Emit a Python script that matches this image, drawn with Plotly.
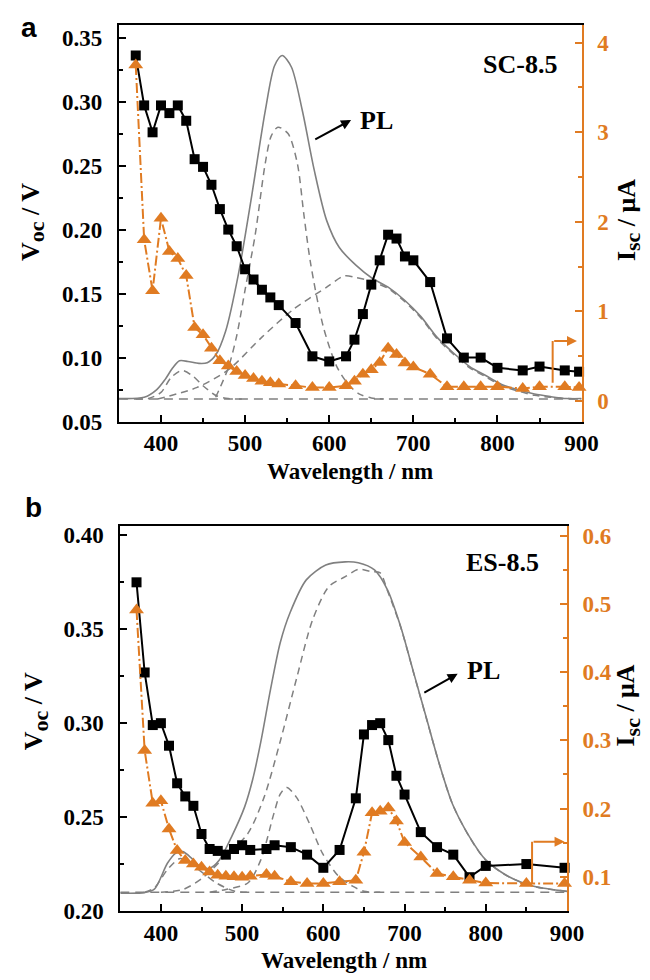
import plotly.graph_objects as go

# ---------------- DATA ----------------
# Panel a (SC-8.5)
a_wl = [370, 380, 390, 400, 410, 420, 430, 440, 450, 460, 470, 480, 490, 500, 510, 520, 530, 540,
        560, 580, 600, 620, 630, 640, 650, 660, 670, 680, 690, 700, 720, 740, 760, 780, 800,
        830, 850, 880, 897]
a_voc = [0.336, 0.297, 0.276, 0.297, 0.291, 0.297, 0.285, 0.255, 0.249, 0.235, 0.216, 0.200, 0.187,
         0.169, 0.161, 0.153, 0.147, 0.141, 0.127, 0.101, 0.097, 0.101, 0.114, 0.134, 0.157, 0.176,
         0.196, 0.193, 0.179, 0.176, 0.159, 0.115, 0.100, 0.100, 0.092, 0.090, 0.093, 0.090, 0.089]
a_isc = [3.75, 1.80, 1.23, 2.04, 1.67, 1.59, 1.40, 0.82, 0.74, 0.59, 0.45, 0.39, 0.33, 0.285, 0.25,
         0.22, 0.205, 0.19, 0.17, 0.15, 0.15, 0.17, 0.22, 0.30, 0.35, 0.43, 0.59, 0.52, 0.425, 0.38,
         0.30, 0.16, 0.16, 0.16, 0.16, 0.14, 0.16, 0.16, 0.15]

a_pl_wl = [350, 380, 395, 405, 414, 422, 432, 445, 455, 465, 477, 492, 508, 524, 535, 544, 555, 568,
           582, 597, 612, 632, 651, 670, 690, 709, 728, 747, 767, 786, 805, 824, 844, 863, 882, 900]
a_pl = [0.068, 0.069, 0.075, 0.083, 0.092, 0.0975, 0.097, 0.0955, 0.096, 0.102, 0.121, 0.165, 0.227,
        0.293, 0.328, 0.336, 0.327, 0.293, 0.247, 0.207, 0.186, 0.172, 0.162, 0.155, 0.1446,
        0.132, 0.116, 0.104, 0.093, 0.086, 0.079, 0.075, 0.0715, 0.0695, 0.068, 0.068]

a_g1_wl = [370, 385, 400, 412, 425, 438, 450, 466, 480, 500]
a_g1 = [0.0677, 0.068, 0.0728, 0.0844, 0.090, 0.0855, 0.078, 0.0702, 0.068, 0.0677]
a_g2_wl = [465, 480, 490, 500, 512, 524, 531, 539, 551, 562, 570, 578, 593, 609, 624, 636, 650, 665]
a_g2 = [0.069, 0.092, 0.117, 0.153, 0.196, 0.252, 0.273, 0.280, 0.275, 0.252, 0.211, 0.173, 0.124,
        0.093, 0.078, 0.0715, 0.0685, 0.0677]
a_g3_wl = [396, 443, 481, 520, 558, 597, 618, 632, 648, 670, 690, 709, 728, 747, 767, 786, 805, 824,
           844, 863, 882, 900]
a_g3 = [0.0677, 0.0767, 0.091, 0.116, 0.138, 0.155, 0.1638, 0.1625, 0.160, 0.154, 0.1436, 0.131, 0.115,
        0.103, 0.092, 0.085, 0.078, 0.074, 0.0705, 0.069, 0.068, 0.0678]
a_base_wl = [350, 900]
a_base = [0.0677, 0.0677]

# Panel b (ES-8.5)
b_wl = [370, 380, 390, 400, 410, 420, 430, 440, 450, 460, 470, 480, 490, 500, 510, 530, 540, 560,
        580, 600, 620, 640, 650, 660, 670, 680, 690, 700, 720, 740, 760, 780, 800, 850, 897]
b_voc = [0.375, 0.327, 0.299, 0.300, 0.288, 0.268, 0.261, 0.256, 0.241, 0.233, 0.232, 0.230, 0.233,
         0.235, 0.2325, 0.233, 0.235, 0.234, 0.230, 0.223, 0.2325, 0.260, 0.294, 0.299, 0.300, 0.291,
         0.272, 0.262, 0.242, 0.234, 0.230, 0.218, 0.224, 0.225, 0.223]
b_isc = [0.491, 0.285, 0.208, 0.2115, 0.170, 0.1385, 0.124, 0.119, 0.114, 0.107, 0.1025, 0.101, 0.100,
         0.0995, 0.101, 0.1034, 0.101, 0.093, 0.0904, 0.0904, 0.093, 0.095, 0.136, 0.194, 0.196, 0.201,
         0.182, 0.1505, 0.129, 0.105, 0.100, 0.095, 0.091, 0.0904, 0.0904]

b_pl_wl = [350, 380, 392, 408, 418, 427, 438, 448, 460, 472, 487, 503, 513, 523, 535, 547, 559, 579,
           603, 627, 643, 663, 679, 695, 711, 727, 743, 759, 780, 800, 828, 859, 900]
b_pl = [0.2095, 0.2098, 0.2116, 0.2254, 0.2307, 0.2316, 0.228, 0.2237, 0.2228, 0.2272, 0.2395, 0.2553,
        0.270, 0.290, 0.318, 0.343, 0.3588, 0.3763, 0.3842, 0.3859, 0.3854, 0.3816, 0.371, 0.3517,
        0.3272, 0.3026, 0.278, 0.257, 0.2395, 0.2272, 0.2184, 0.2132, 0.2105]
b_g1_wl = [380, 392, 408, 424, 438, 452, 468, 491, 510]
b_g1 = [0.210, 0.2123, 0.222, 0.228, 0.2245, 0.2202, 0.215, 0.2105, 0.210]
b_g2_wl = [460, 480, 507, 523, 539, 547, 555, 567, 583, 599, 619, 636, 650, 670]
b_g2 = [0.210, 0.2115, 0.2149, 0.2272, 0.2517, 0.2623, 0.2658, 0.2605, 0.2465, 0.2307, 0.2184, 0.2132,
        0.2105, 0.210]
b_g3_wl = [400, 427, 451, 479, 507, 527, 547, 567, 587, 607, 627, 643, 659, 670, 679, 695, 711, 727,
           743, 759, 780, 800, 828, 859, 900]
b_g3 = [0.210, 0.2114, 0.2175, 0.229, 0.2412, 0.2605, 0.2904, 0.3237, 0.3553, 0.3728, 0.378, 0.3819,
        0.3807, 0.380, 0.3705, 0.3515, 0.327, 0.3024, 0.278, 0.257, 0.2393, 0.227, 0.2183, 0.2131, 0.2104]
b_base_wl = [350, 900]
b_base = [0.210, 0.210]

# ---------------- STYLE ----------------
ORANGE = "#E07B22"
GRAY = "#808080"
SERIF = "Liberation Serif"
W, H = 650, 980

fig = go.Figure()


def add_panel(xa, yl, yr, wl, voc, isc, pl_wl, pl, comps, base_wl, base):
    fig.add_trace(go.Scatter(x=base_wl, y=base, mode="lines", xaxis=xa, yaxis=yl,
                             line=dict(color=GRAY, width=1.5, dash="9px,6px"), showlegend=False))
    for cw, cv in comps:
        fig.add_trace(go.Scatter(x=cw, y=cv, mode="lines", xaxis=xa, yaxis=yl,
                                 line=dict(color=GRAY, width=1.5, dash="7px,5px", shape="spline",
                                           smoothing=0.8), showlegend=False))
    fig.add_trace(go.Scatter(x=pl_wl, y=pl, mode="lines", xaxis=xa, yaxis=yl,
                             line=dict(color=GRAY, width=1.6, shape="spline", smoothing=0.8),
                             showlegend=False))
    fig.add_trace(go.Scatter(x=wl, y=voc, mode="lines+markers", xaxis=xa, yaxis=yl,
                             line=dict(color="black", width=2),
                             marker=dict(symbol="square", size=10, color="black"),
                             cliponaxis=False, showlegend=False))
    fig.add_trace(go.Scatter(x=wl, y=isc, mode="lines+markers", xaxis=xa, yaxis=yr,
                             line=dict(color=ORANGE, width=2, dash="10px,3px,2px,3px"),
                             marker=dict(symbol="triangle-up", size=13, color=ORANGE),
                             cliponaxis=False, showlegend=False))


add_panel("x", "y", "y2", a_wl, a_voc, a_isc, a_pl_wl, a_pl,
          [(a_g1_wl, a_g1), (a_g2_wl, a_g2), (a_g3_wl, a_g3)], a_base_wl, a_base)
add_panel("x2", "y3", "y4", b_wl, b_voc, b_isc, b_pl_wl, b_pl,
          [(b_g1_wl, b_g1), (b_g2_wl, b_g2), (b_g3_wl, b_g3)], b_base_wl, b_base)

tickfont = dict(family=SERIF, size=23, color="black", weight="bold")
otickfont = dict(family=SERIF, size=23, color=ORANGE, weight="bold")


def xax(domain, anchor):
    return dict(domain=domain, anchor=anchor, range=[350, 900], tick0=0, dtick=100,
                ticks="inside", ticklen=7, tickwidth=2, tickcolor="black",
                minor=dict(ticks="inside", ticklen=4, tickwidth=2, dtick=50, tick0=0, tickcolor="black"),
                showline=True, linecolor="black", linewidth=2, mirror=True,
                showgrid=False, zeroline=False, tickfont=tickfont, ticklabelstandoff=0)


def yax(domain, anchor, rng, dtick, fmt):
    return dict(domain=domain, anchor=anchor, range=rng, dtick=dtick, tick0=0, tickformat=fmt,
                ticks="inside", ticklen=7, tickwidth=2, tickcolor="black",
                minor=dict(ticks="inside", ticklen=4, tickwidth=2, dtick=dtick / 2, tick0=0,
                           tickcolor="black"),
                showline=True, linecolor="black", linewidth=2,
                showgrid=False, zeroline=False, tickfont=tickfont, ticklabelstandoff=10)


def yrax(anchor, overlay, rng, dtick, fmt):
    return dict(anchor=anchor, overlaying=overlay, side="right", range=rng, dtick=dtick, tick0=0,
                tickformat=fmt, ticks="inside", ticklen=7, tickwidth=2, tickcolor=ORANGE,
                minor=dict(ticks="inside", ticklen=4, tickwidth=2, dtick=dtick / 2, tick0=0,
                           tickcolor=ORANGE),
                showline=True, linecolor=ORANGE, linewidth=2,
                showgrid=False, zeroline=False, tickfont=otickfont, ticklabelstandoff=9)


def px2x(p):
    return p / W


def px2y(p):
    return 1 - p / H


fig.update_layout(
    width=W, height=H, margin=dict(l=0, r=0, t=0, b=0),
    paper_bgcolor="white", plot_bgcolor="white", showlegend=False,
    xaxis=xax([px2x(113.9), px2x(589)], "y"),
    yaxis=yax([px2y(418), px2y(15)], "x", [0.05, 0.36], 0.05, ".2f"),
    yaxis2=yrax("x", "y", [-0.23, 4.2], 1, "d"),
    xaxis2=xax([px2x(115.3), px2x(574)], "y3"),
    yaxis3=yax([px2y(915), px2y(524)], "x2", [0.20, 0.405], 0.05, ".2f"),
    yaxis4=yrax("x2", "y3", [0.05, 0.614], 0.1, ".1f"),
)

ann = []
tfont = dict(family=SERIF, size=23, color="black", weight="bold")
vfont = dict(family=SERIF, size=26, color="black", weight="bold")


def ptext(x, y, text, font, angle=0):
    ann.append(dict(x=px2x(x), y=px2y(y), xref="paper", yref="paper", text=text,
                    xanchor="center", yanchor="middle", showarrow=False, textangle=angle, font=font))


VOC = "V<sub><span style='font-size:22px'>oc</span></sub> / V"
ISC = "I<sub><span style='font-size:22px'>sc</span></sub> / μA"

# axis titles
ptext(351, 469, "Wavelength / nm", tfont)
ptext(345, 965, "Wavelength / nm", tfont)
ptext(25, 215, VOC, vfont, -90)
ptext(28, 712, VOC, vfont, -90)
ptext(637, 213, ISC, vfont, -90)
ptext(636, 706, ISC, vfont, -90)
# panel letters
pfont = dict(family="Liberation Sans", size=28, color="black", weight="bold")
ptext(22, 18, "a", pfont)
ptext(26, 505, "b", pfont)

# sample names
lfont = dict(family=SERIF, size=26, color="black", weight="bold")
ann.append(dict(x=827, y=0.329, xref="x", yref="y", text="SC-8.5", showarrow=False, font=lfont,
                xanchor="center", yanchor="middle"))
ann.append(dict(x=820, y=0.3858, xref="x2", yref="y3", text="ES-8.5", showarrow=False, font=lfont,
                xanchor="center", yanchor="middle"))
# PL arrows + labels
ann.append(dict(x=626, y=0.2856, xref="x", yref="y", ax=581.6, ay=0.2698, axref="x", ayref="y",
                text="", showarrow=True, arrowhead=2, arrowsize=1, arrowwidth=2, arrowcolor="black"))
ann.append(dict(x=656, y=0.2856, xref="x", yref="y", text="PL", showarrow=False, font=lfont,
                xanchor="center", yanchor="middle"))
ann.append(dict(x=765.4, y=0.3263, xref="x2", yref="y3", ax=722.5, ay=0.3158, axref="x2", ayref="y3",
                text="", showarrow=True, arrowhead=2, arrowsize=1, arrowwidth=2, arrowcolor="black"))
ann.append(dict(x=797, y=0.3279, xref="x2", yref="y3", text="PL", showarrow=False, font=lfont,
                xanchor="center", yanchor="middle"))
# orange "right axis" arrows
ann.append(dict(x=894.5, y=0.67, xref="x", yref="y2", ax=865.6, ay=0.67, axref="x", ayref="y2",
                text="", showarrow=True, arrowhead=2, arrowsize=1, arrowwidth=2, arrowcolor=ORANGE))
ann.append(dict(x=897, y=0.1515, xref="x2", yref="y4", ax=857, ay=0.1515, axref="x2", ayref="y4",
                text="", showarrow=True, arrowhead=2, arrowsize=1, arrowwidth=2, arrowcolor=ORANGE))
fig.update_layout(annotations=ann)

fig.add_shape(type="line", xref="x", yref="y2", x0=865.6, x1=865.6, y0=0.205, y1=0.67,
              line=dict(color=ORANGE, width=2))
fig.add_shape(type="line", xref="x2", yref="y4", x0=857, x1=857, y0=0.0903, y1=0.1515,
              line=dict(color=ORANGE, width=2))

fig.write_html("out.html")
